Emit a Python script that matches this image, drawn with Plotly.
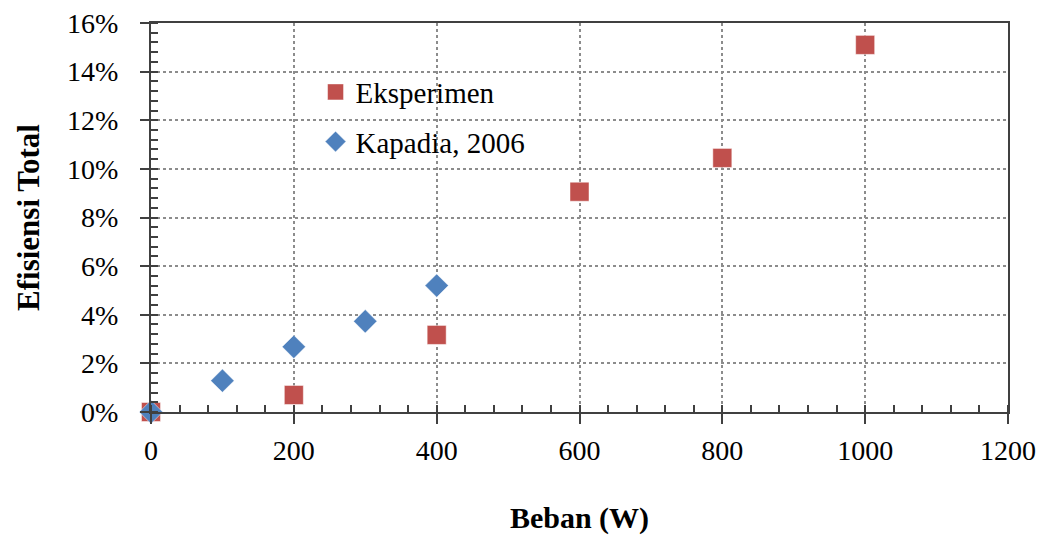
import plotly.graph_objects as go

# Data
beban_eksp = [0, 200, 400, 600, 800, 1000]
efisiensi_eksp = [0.0, 0.0070, 0.0317, 0.0906, 0.1045, 0.1510]

beban_kapadia = [0, 100, 200, 300, 400]
efisiensi_kapadia = [0.0, 0.0129, 0.0268, 0.0373, 0.0520]

FONT = "Liberation Serif"

fig = go.Figure()

fig.add_trace(go.Scatter(
    x=beban_eksp,
    y=efisiensi_eksp,
    mode='markers',
    name='Eksperimen',
    legendgroup='a',
    cliponaxis=False,
    marker=dict(symbol='square', size=19, color='#C0504D',
                line=dict(color='rgba(255,255,255,0.6)', width=0.8))
))

fig.add_trace(go.Scatter(
    x=beban_kapadia,
    y=efisiensi_kapadia,
    mode='markers',
    name='Kapadia, 2006',
    legendgroup='b',
    cliponaxis=False,
    marker=dict(symbol='diamond', size=18, color='#4F81BD',
                line=dict(color='rgba(255,255,255,0.6)', width=0.8))
))

# page body adds an 8px offset, so the figure is sized a bit smaller
fig.update_layout(
    width=1036,
    height=527,
    margin=dict(l=143, r=36, t=15, b=123),
    plot_bgcolor='white',
    paper_bgcolor='white',
    font=dict(family=FONT, size=28, color='black'),
    legend=dict(
        x=0.192, y=0.888, xanchor='left', yanchor='top',
        font=dict(family=FONT, size=29),
        bgcolor='rgba(0,0,0,0)',
        tracegroupgap=9,
        itemwidth=30
    ),
    xaxis=dict(
        range=[0, 1200],
        dtick=200,
        tick0=0,
        automargin=False,
        ticklabeloverflow='allow',
        showline=True, linecolor='#404040', linewidth=2, mirror=True,
        ticks='outside', ticklen=10, tickwidth=2, tickcolor='#404040',
        ticklabelstandoff=2,
        showgrid=True, gridcolor='#8c8c8c', griddash='dot', gridwidth=1.5,
        zeroline=False,
        minor=dict(dtick=40, ticks='inside', ticklen=7, tickwidth=1.5,
                   tickcolor='#404040', showgrid=False),
        title=dict(text='<b>Beban (W)</b>', font=dict(family=FONT, size=30),
                   standoff=42)
    ),
    yaxis=dict(
        range=[0, 0.16],
        dtick=0.02,
        tick0=0,
        tickformat='.0%',
        automargin=False,
        ticklabeloverflow='allow',
        showline=True, linecolor='#404040', linewidth=2, mirror=True,
        ticks='outside', ticklen=9, tickwidth=2, tickcolor='#404040',
        ticklabelstandoff=16,
        showgrid=True, gridcolor='#8c8c8c', griddash='dot', gridwidth=1.5,
        zeroline=False,
        minor=dict(dtick=0.004, ticks='inside', ticklen=7, tickwidth=1.5,
                   tickcolor='#404040', showgrid=False),
        title=dict(text='<b>Efisiensi Total</b>', font=dict(family=FONT, size=31),
                   standoff=18)
    )
)

fig.write_html("out.html")
